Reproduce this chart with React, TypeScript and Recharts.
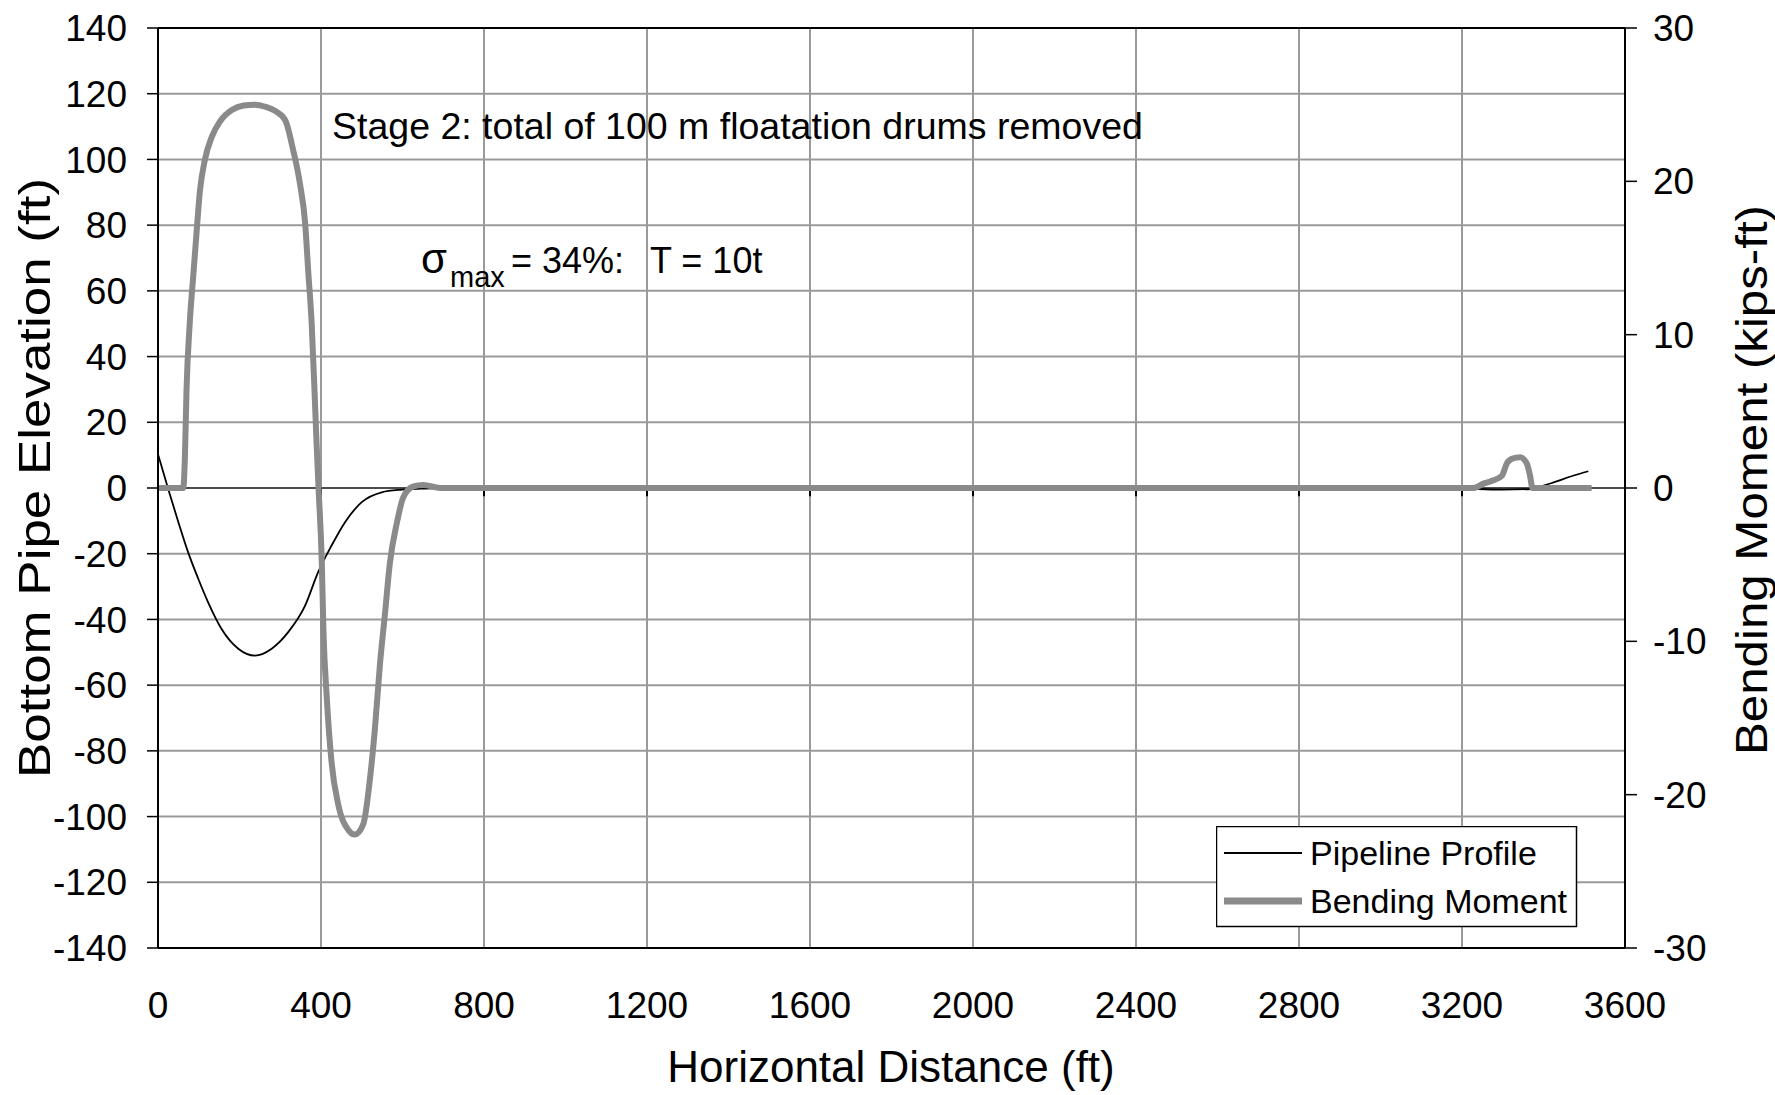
import React from "react";
import {
  ComposedChart,
  Line,
  XAxis,
  YAxis,
  CartesianGrid,
  ReferenceLine,
  Legend,
} from "recharts";

const FONT = '"Liberation Sans", Arial, Helvetica, sans-serif';

const xTicks = [0, 400, 800, 1200, 1600, 2000, 2400, 2800, 3200, 3600];
const elevTicks = [-140, -120, -100, -80, -60, -40, -20, 0, 20, 40, 60, 80, 100, 120, 140];
const momentTicks = [-30, -20, -10, 0, 10, 20, 30];

// Pipeline Profile (ft, bottom pipe elevation ft)
const profileX = [
  0, 25, 50, 74, 99, 123, 156, 197, 238, 279, 320, 361, 393, 426, 459, 500, 549, 598, 647, 700,
  1200, 2000, 2800, 3200, 3240, 3300, 3370, 3400, 3425, 3474, 3510,
];
const profileY = [
  10.3, -0.3, -10.4, -19.6, -27.7, -34.8, -42.9, -48.9, -51.0, -48.9, -43.8, -35.8, -25.6, -17.5,
  -10.4, -4.3, -1.3, -0.5, -0.2, 0, 0, 0, 0, 0, -0.3, -0.5, -0.3, 0.7, 1.7, 3.8, 5.1,
];

// Bending Moment (ft, kips-ft)
const momentX = [
  0, 30, 62, 66, 70, 78, 87, 95, 103, 115, 132, 152, 181, 210, 238, 265, 287, 312, 332, 348, 361,
  369, 377, 384, 389, 394, 402, 406, 414, 426, 442, 467, 483, 504, 520, 532, 545, 557, 569, 586,
  602, 627, 651, 692, 800, 1600, 2400, 3229, 3254, 3277, 3298, 3310, 3322, 3343, 3359, 3367, 3373,
  3450, 3518,
];
const momentY = [
  0, 0, 0, 2.0, 6.4, 10.8, 14.0, 16.8, 19.4, 21.4, 22.9, 23.9, 24.65, 24.95, 25.0, 24.85, 24.6,
  24.0, 22.0, 19.9, 17.3, 14.0, 10.8, 6.4, 3.0, 0, -4.9, -9.3, -13.6, -17.9, -20.6, -22.3, -22.6,
  -21.9, -19.0, -15.8, -11.4, -8.2, -4.9, -2.3, -0.6, 0.1, 0.2, 0, 0, 0, 0, 0, 0.3, 0.5, 0.8, 1.6,
  1.9, 2.0, 1.6, 0.8, 0, 0, 0,
];

const profileData = profileX.map((x, i) => ({ x, elev: profileY[i] }));
const momentData = momentX.map((x, i) => ({ x, moment: momentY[i] }));

const LEGEND_ORDER = ["Pipeline Profile", "Bending Moment"];
const LEGEND_STYLE: Record<string, { color: string; width: number }> = {
  "Pipeline Profile": { color: "#000000", width: 2 },
  "Bending Moment": { color: "#8a8a8a", width: 7 },
};

const renderLegend = (props: any) => {
  const items = [...(props.payload || [])].sort(
    (a: any, b: any) => LEGEND_ORDER.indexOf(a.value) - LEGEND_ORDER.indexOf(b.value),
  );
  return (
    <svg width={362} height={102} style={{ display: "block" }}>
      <rect x={0.5} y={0.5} width={360} height={100} fill="#fff" stroke="#000" strokeWidth={1.5} />
      {items.map((entry: any, i: number) => {
        const st = LEGEND_STYLE[entry.value] || { color: entry.color, width: 2 };
        const cy = 27 + i * 48;
        return (
          <g key={i}>
            <line x1={8} x2={86} y1={cy} y2={cy} stroke={st.color} strokeWidth={st.width} />
            <text x={94} y={cy + 12} fontSize={34} fontFamily={FONT} fill="#000">
              {entry.value}
            </text>
          </g>
        );
      })}
    </svg>
  );
};

export default function App() {
  return (
    <div style={{ position: "absolute", left: 0, top: 0, width: 1775, height: 1095, background: "#fff" }}>
      <ComposedChart
        width={1775}
        height={1095}
        margin={{ top: 28, right: 50, bottom: 47, left: 58 }}
      >
        <CartesianGrid yAxisId="left" stroke="#9a9a9a" strokeWidth={2} />
        <XAxis
          type="number"
          dataKey="x"
          domain={[0, 3600]}
          ticks={xTicks}
          allowDataOverflow
          height={100}
          tickLine={false}
          tickSize={0}
          tickMargin={44}
          axisLine={{ stroke: "#000", strokeWidth: 2 }}
          tick={{ fontSize: 37, fill: "#000", fontFamily: FONT }}
        />
        <YAxis
          yAxisId="left"
          orientation="left"
          type="number"
          domain={[-140, 140]}
          ticks={elevTicks}
          allowDataOverflow
          width={100}
          tickSize={11}
          tickMargin={20}
          tickLine={{ stroke: "#000", strokeWidth: 1.5 }}
          axisLine={{ stroke: "#000", strokeWidth: 2 }}
          tick={{ fontSize: 37, fill: "#000", fontFamily: FONT }}
        />
        <YAxis
          yAxisId="right"
          orientation="right"
          type="number"
          domain={[-30, 30]}
          ticks={momentTicks}
          allowDataOverflow
          width={100}
          tickSize={12}
          tickMargin={16}
          tickLine={{ stroke: "#000", strokeWidth: 1.5 }}
          axisLine={{ stroke: "#000", strokeWidth: 2 }}
          tick={{ fontSize: 37, fill: "#000", fontFamily: FONT }}
        />
        <ReferenceLine yAxisId="left" y={140} stroke="#000" strokeWidth={2} />
        <ReferenceLine yAxisId="left" y={0} stroke="#000" strokeWidth={1.2} />
        {xTicks.map((t) => (
          <ReferenceLine
            key={t}
            yAxisId="left"
            segment={[
              { x: t, y: 0 },
              { x: t, y: -2.5 },
            ]}
            stroke="#000"
            strokeWidth={2}
          />
        ))}
        <Line
          yAxisId="left"
          data={profileData}
          dataKey="elev"
          name="Pipeline Profile"
          type="monotone"
          stroke="#000"
          strokeWidth={1.8}
          dot={false}
          activeDot={false}
          isAnimationActive={false}
        />
        <Line
          yAxisId="right"
          data={momentData}
          dataKey="moment"
          name="Bending Moment"
          type="monotone"
          stroke="#8a8a8a"
          strokeWidth={6}
          dot={false}
          activeDot={false}
          isAnimationActive={false}
        />
        <Legend
          layout="vertical"
          align="center"
          verticalAlign="middle"
          content={renderLegend}
          wrapperStyle={{ left: 1216, top: 826, width: 362, height: 102 }}
        />
      </ComposedChart>

      {/* titles and notes */}
      <svg
        width={1775}
        height={1095}
        style={{ position: "absolute", left: 0, top: 0, pointerEvents: "none" }}
        fontFamily={FONT}
      >
        <text x={891} y={1082} textAnchor="middle" fontSize={44} fill="#000">
          Horizontal Distance (ft)
        </text>
        <text
          x={34}
          y={478}
          textAnchor="middle"
          dominantBaseline="central"
          fontSize={44}
          fill="#000"
          textLength={600}
          lengthAdjust="spacingAndGlyphs"
          transform="rotate(-90 34 478)"
        >
          Bottom Pipe Elevation (ft)
        </text>
        <text
          x={1751}
          y={480}
          textAnchor="middle"
          dominantBaseline="central"
          fontSize={44}
          fill="#000"
          textLength={550}
          lengthAdjust="spacingAndGlyphs"
          transform="rotate(-90 1751 480)"
        >
          Bending Moment (kips-ft)
        </text>
        <text x={332} y={139} fontSize={37.5} fill="#000">
          Stage 2: total of 100 m floatation drums removed
        </text>
        <text y={273} fill="#000">
          <tspan x={421} fontSize={42}>σ</tspan>
          <tspan x={450} y={287} fontSize={29}>max</tspan>
          <tspan x={511} y={273} fontSize={36}>= 34%:</tspan>
          <tspan x={650} y={273} fontSize={36}>T = 10t</tspan>
        </text>
      </svg>
    </div>
  );
}
